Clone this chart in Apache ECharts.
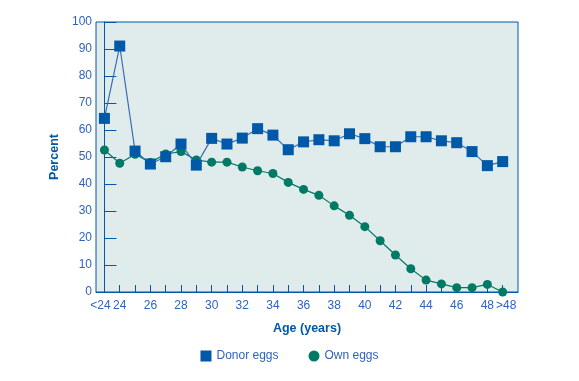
<!DOCTYPE html>
<html><head><meta charset="utf-8">
<script src="https://cdn.jsdelivr.net/npm/echarts@6/dist/echarts.min.js"></script>
<style>html,body{margin:0;padding:0;background:#fff}#c{width:579px;height:381px}</style>
</head><body><div id="c"></div>
<script>
const categories = ['<24','24','25','26','27','28','29','30','31','32','33','34','35','36','37','38','39','40','41','42','43','44','45','46','47','48','>48'];
const tickLabels = ['<24','24','26','28','30','32','34','36','38','40','42','44','46','48','>48'];
const donorEggs = [64.3,91.1,52.2,47.4,50.1,54.8,47.0,56.9,54.8,57.0,60.5,58.1,52.7,55.6,56.4,56.0,58.6,56.8,53.8,53.8,57.5,57.5,56.0,55.3,52.0,46.8,48.3];
const ownEggs = [52.6,47.7,51.0,48.0,51.1,52.0,48.9,48.1,48.1,46.3,44.9,43.9,40.6,38.0,35.8,31.9,28.4,24.2,19.0,13.7,8.6,4.4,3.0,1.6,1.6,2.8,0];

const labelIdx = tickLabels.map(t => categories.indexOf(t));
const tickIdx = categories.map((c,i)=>i);
const blue = '#0058a8', green = '#007a64', txt = '#3062c0';
const font = 'Liberation Sans, Arial, sans-serif';
const lastIdx = categories.length - 1;

const chart = echarts.init(document.getElementById('c'));
chart.setOption({
  animation:false,
  grid:{left:96,right:61,top:22,bottom:89,show:true,backgroundColor:'#e0ebeb',borderColor:blue,borderWidth:1,containLabel:false},
  xAxis:{type:'value',min:-0.55,max:27.0,
    name:'Age (years)',nameLocation:'middle',nameGap:30,
    nameTextStyle:{color:blue,fontWeight:'bold',fontSize:12.5,fontFamily:font},
    axisLine:{lineStyle:{color:blue,width:1}},
    axisTick:{inside:true,length:7,lineStyle:{color:blue},customValues:tickIdx},
    axisLabel:{color:txt,fontSize:12,fontFamily:font,margin:8,hideOverlap:false,
      showMinLabel:true,showMaxLabel:true,customValues:labelIdx,
      formatter:v=>{const i=Math.round(v);const s=categories[i];
        if(i===0) return '{l|'+s+'}'; if(i===lastIdx) return '{r|'+s+'}'; return s;},
      rich:{l:{color:txt,fontSize:12,fontFamily:font,padding:[0,8,0,0]},
            r:{color:txt,fontSize:12,fontFamily:font,padding:[0,0,0,7]}}},
    splitLine:{show:false}},
  yAxis:{type:'value',min:0,max:100,interval:10,
    name:'Percent',nameLocation:'middle',nameGap:28,nameRotate:90,
    nameTextStyle:{color:blue,fontWeight:'bold',fontSize:12.5,fontFamily:font},
    axisLine:{show:true,lineStyle:{color:blue,width:1}},
    axisTick:{show:true,inside:true,length:12,lineStyle:{color:blue}},
    axisLabel:{color:txt,fontSize:12,fontFamily:font,margin:4},
    splitLine:{show:false}},
  legend:{bottom:14,left:'center',itemWidth:11,itemHeight:11,itemGap:30,
    textStyle:{color:txt,fontSize:12,fontFamily:font},
    data:[{name:'Donor eggs',icon:'rect'},{name:'Own eggs',icon:'circle'}]},
  series:[
    {name:'Own eggs',type:'line',data:ownEggs.map((v,i)=>[i,v]),symbol:'circle',symbolSize:9,
      itemStyle:{color:green},lineStyle:{color:green,width:1.2},z:2},
    {name:'Donor eggs',type:'line',data:donorEggs.map((v,i)=>[i,v]),symbol:'rect',symbolSize:11,
      itemStyle:{color:blue},lineStyle:{color:'#3a6db5',width:1.2},z:3}
  ]
});
</script></body></html>
